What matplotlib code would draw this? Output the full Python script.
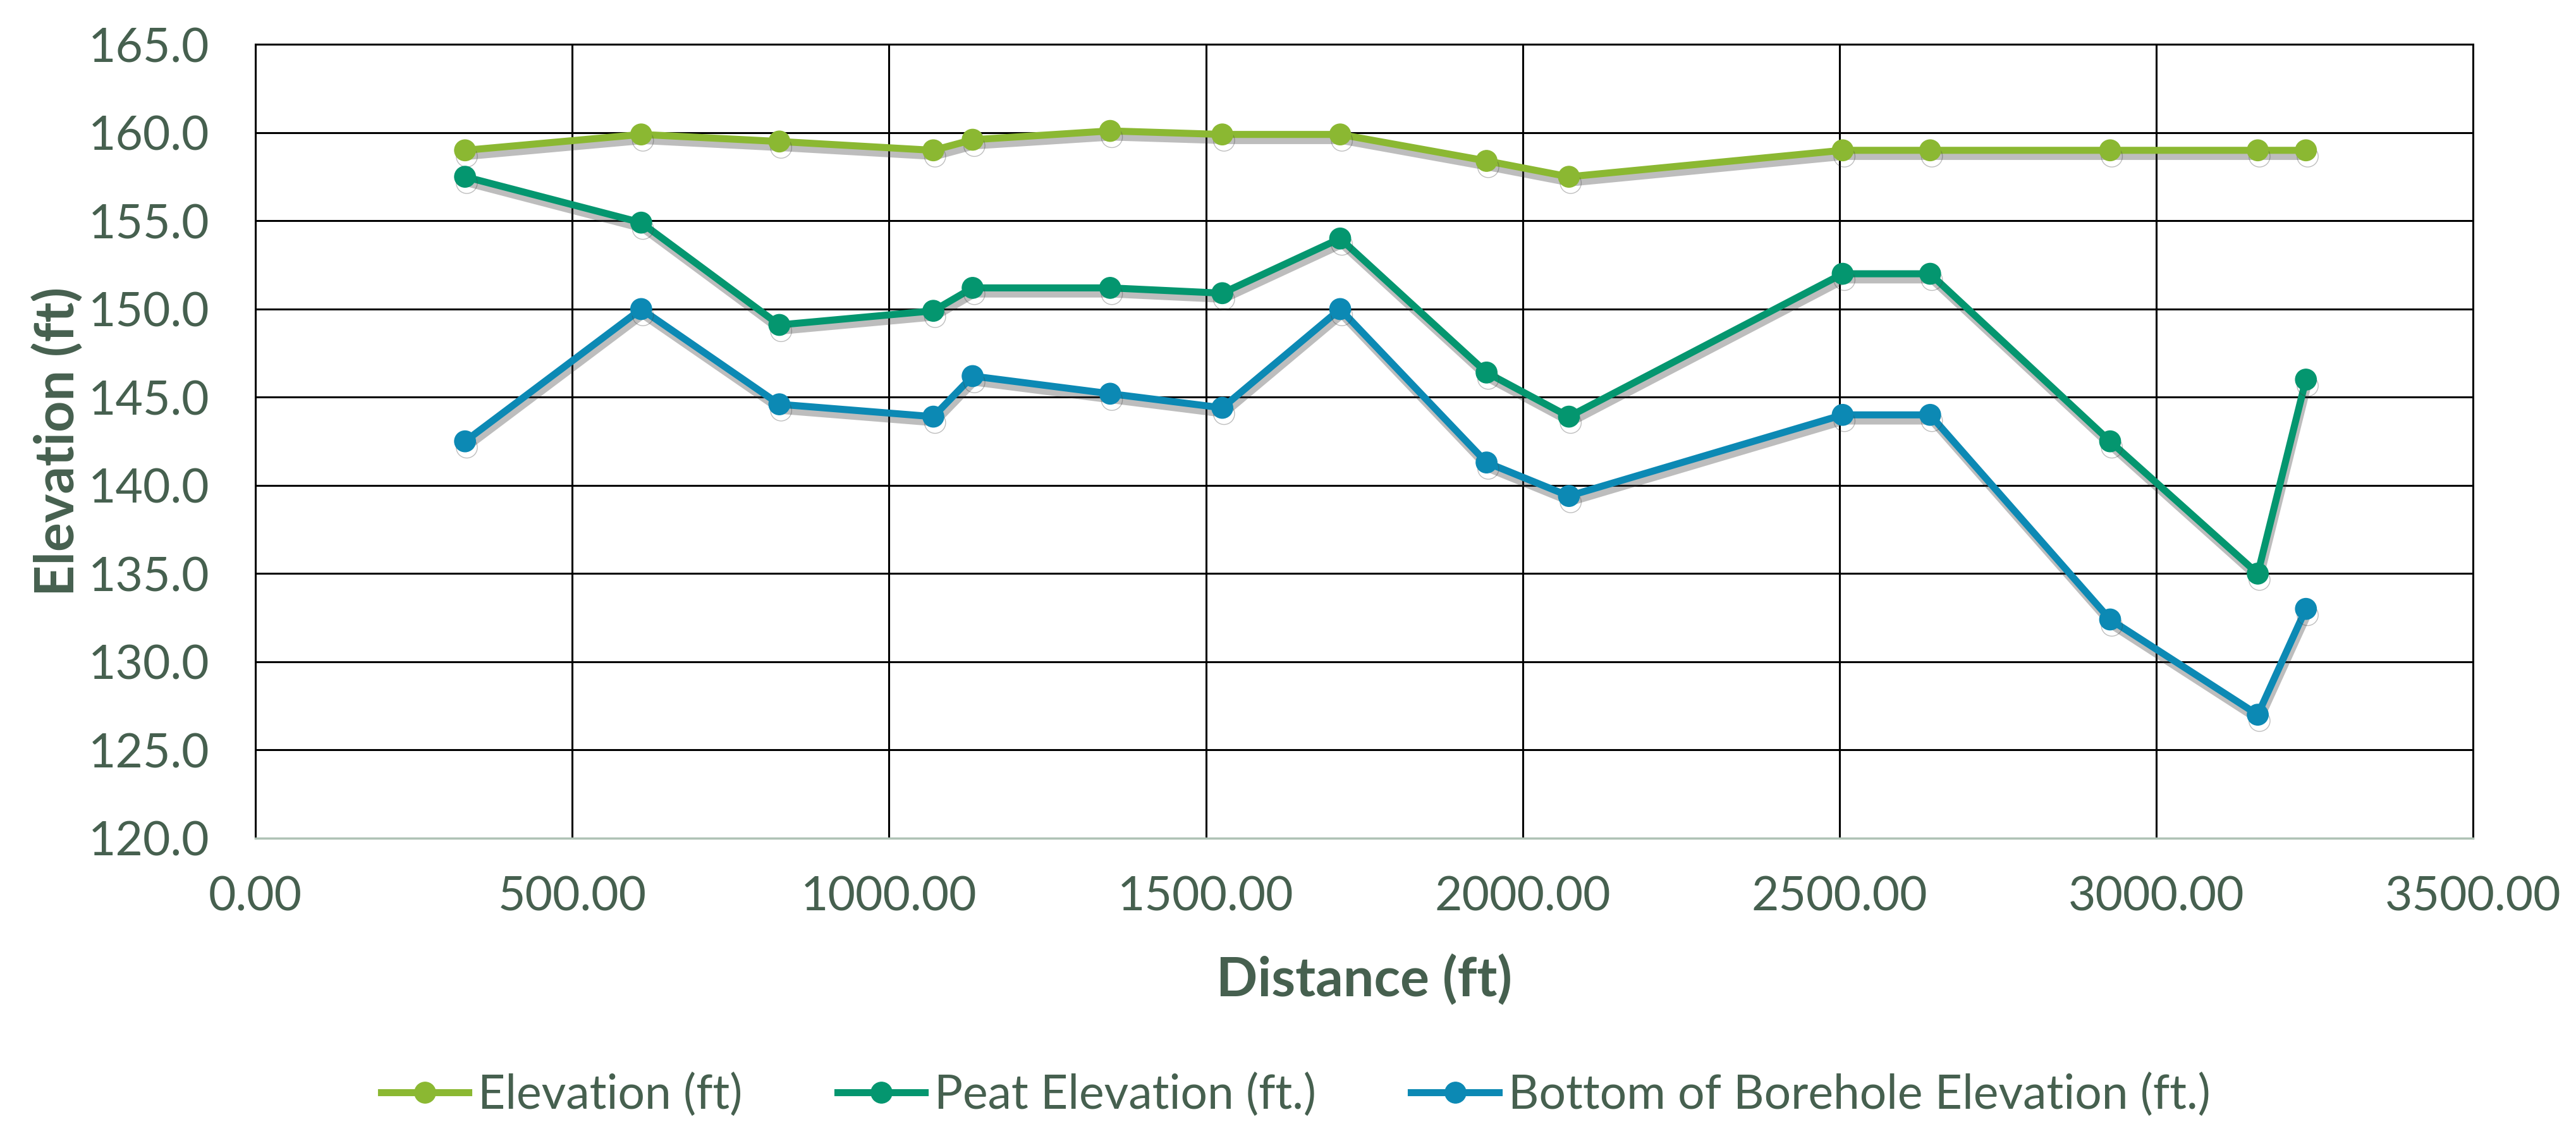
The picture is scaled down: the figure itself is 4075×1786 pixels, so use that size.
import matplotlib
matplotlib.use("Agg")
import matplotlib.pyplot as plt
import matplotlib.patheffects as pe
from matplotlib.lines import Line2D
from matplotlib.ticker import FormatStrFormatter, MultipleLocator

# distances (ft)
distance = [331, 609, 827, 1070, 1132, 1349, 1526, 1712, 1943, 2073,
            2505, 2643, 2927, 3160, 3236]

elevation = [159.0, 159.9, 159.5, 159.0, 159.6, 160.1, 159.9, 159.9, 158.4, 157.5,
             159.0, 159.0, 159.0, 159.0, 159.0]
peat = [157.5, 154.9, 149.1, 149.9, 151.2, 151.2, 150.9, 154.0, 146.4, 143.9,
        152.0, 152.0, 142.5, 135.0, 146.0]
bottom = [142.5, 150.0, 144.6, 143.9, 146.2, 145.2, 144.4, 150.0, 141.3, 139.4,
          144.0, 144.0, 132.4, 127.0, 133.0]

series_names = ["Elevation (ft)", "Peat Elevation (ft.)", "Bottom of Borehole Elevation (ft.)"]
series_colors = ["#8BB832", "#04966F", "#0C89B4"]

TEXT = "#46604F"
plt.rcParams["font.family"] = ["Lato", "DejaVu Sans"]

fig = plt.figure(figsize=(40.75, 17.86), dpi=100)
ax = fig.add_axes([0.0991, 0.2576, 0.8610, 0.7030])

shadow = [pe.SimpleLineShadow(offset=(2, -7), shadow_color="#444444", alpha=0.35), pe.Normal()]
handles = []
for ys, name, col in zip([elevation, peat, bottom], series_names, series_colors):
    ax.plot(distance, ys, color=col, lw=8, marker="o", ms=24,
            path_effects=shadow, zorder=3)
    # legend entries without the drop shadow
    handles.append(Line2D([], [], color=col, lw=8, marker="o", ms=24, label=name))

ax.set_xlim(0, 3500)
ax.set_ylim(120, 165)
ax.xaxis.set_major_locator(MultipleLocator(500))
ax.yaxis.set_major_locator(MultipleLocator(5))
ax.xaxis.set_major_formatter(FormatStrFormatter("%.2f"))
ax.yaxis.set_major_formatter(FormatStrFormatter("%.1f"))
ax.grid(True, color="black", lw=2.2, zorder=1)
ax.set_axisbelow(True)

for s in ["top", "right", "left"]:
    ax.spines[s].set_color("black")
    ax.spines[s].set_linewidth(2.2)
ax.spines["bottom"].set_color("#AFC2B5")
ax.spines["bottom"].set_linewidth(2.5)

ax.tick_params(axis="both", length=0, labelsize=54, labelcolor=TEXT)
ax.tick_params(axis="y", pad=52)
ax.tick_params(axis="x", pad=42)

ax.set_xlabel("Distance (ft)", fontsize=62, fontweight="bold", color=TEXT)
ax.set_ylabel("Elevation (ft)", fontsize=62, fontweight="bold", color=TEXT)
ax.xaxis.set_label_coords(0.5, -0.179)
ax.xaxis.label.set_va("center")
ax.yaxis.set_label_coords(-0.089, 0.5)
ax.yaxis.label.set_va("center")

fig.legend(handles=handles, loc="center", bbox_to_anchor=(0.503, 0.03), ncol=3,
           frameon=False, fontsize=54, labelcolor=TEXT, handlelength=1.85,
           handletextpad=0.2, columnspacing=2.0)

fig.savefig("out.png", dpi=100)
